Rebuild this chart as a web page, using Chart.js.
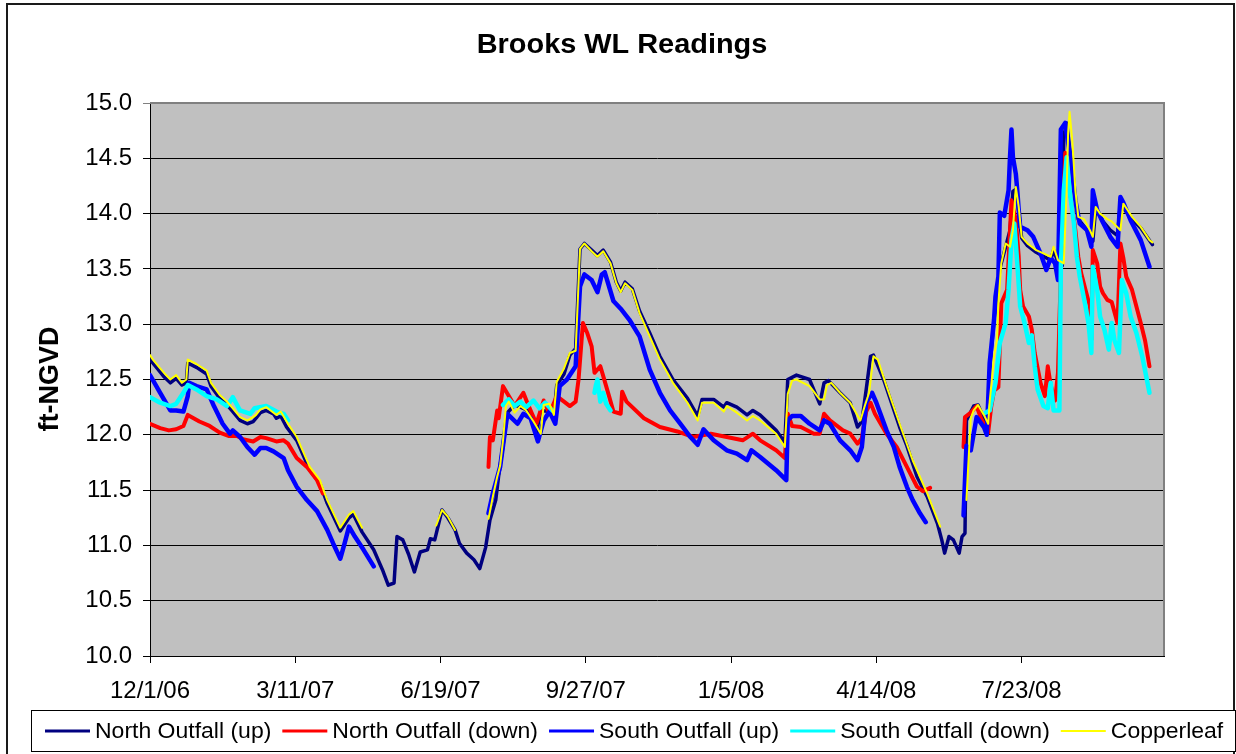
<!DOCTYPE html>
<html>
<head>
<meta charset="utf-8">
<title>Brooks WL Readings</title>
<script src="https://cdn.jsdelivr.net/npm/chart.js@4.4.1/dist/chart.umd.min.js"></script>
<style>
  html, body { margin: 0; padding: 0; background: #fff; }
  #wrap { width: 1236px; height: 754px; position: relative; }
</style>
</head>
<body>
<div id="wrap"><canvas id="wlChart"></canvas></div>
<script>
// x values are days since 12/1/06, y values are ft-NGVD; null = gap in the record
const tickDays = [0, 100, 200, 300, 400, 500, 600];
const tickLabels = ["12/1/06", "3/11/07", "6/19/07", "9/27/07", "1/5/08", "4/14/08", "7/23/08"];

const northUp = [
  [0,12.68],[5,12.60],[10,12.52],[14,12.47],[18,12.51],[22,12.45],[25,12.47],[26,12.65],[32,12.61],[39,12.55],
  [42,12.44],[48,12.33],[53,12.27],[57,12.21],[62,12.13],[67,12.10],[71,12.12],[73,12.15],[76,12.20],[80,12.22],
  [85,12.19],[87,12.15],[90,12.17],[94,12.07],[101,11.95],[110,11.68],[117,11.56],[122,11.38],[131,11.13],[137,11.25],
  [140,11.28],[146,11.12],[154,10.96],[160,10.78],[164,10.64],[168,10.66],[170,11.08],[174,11.05],[178,10.92],[182,10.76],
  [186,10.94],[191,10.96],[193,11.06],[196,11.05],[201,11.32],[205,11.25],[210,11.14],[213,11.02],[218,10.93],[223,10.87],
  [227,10.79],[231,10.98],[234,11.23],[238,11.41],[240,11.63],[243,11.90],[246,12.20],[251,12.27],[257,12.24],[262,12.20],
  [266,12.02],[269,12.22],[275,12.21],[278,12.17],[280,12.45],[285,12.55],[289,12.72],[293,12.78],[296,13.68],[299,13.73],
  [304,13.67],[308,13.62],[312,13.67],[317,13.56],[321,13.38],[324,13.30],[327,13.38],[332,13.32],[337,13.12],[344,12.92],
  [351,12.71],[360,12.50],[370,12.33],[377,12.17],[380,12.32],[388,12.32],[395,12.25],[397,12.29],[404,12.25],[411,12.18],
  [415,12.22],[420,12.18],[431,12.04],[437,11.93],[439,12.50],[445,12.54],[454,12.50],[461,12.28],[464,12.47],[467,12.49],
  [475,12.38],[482,12.29],[487,12.07],[490,12.12],[493,12.41],[496,12.71],[498,12.72],[505,12.50],[516,12.07],[521,11.90],
  [528,11.62],[535,11.44],[542,11.20],[545,11.05],[547,10.93],[550,11.08],[553,11.05],[557,10.93],[559,11.08],[561,11.11],
  [562,12.13],[567,12.26],[570,12.27],[574,12.15],[577,12.04],[578,12.59],[581,13.04],[585,13.50],[589,13.70],[592,13.85],
  [594,14.20],[596,14.22],[598,14.02],[600,13.78],[604,13.71],[610,13.65],[617,13.60],[620,13.58],[622,13.67],[625,13.56],
  [628,13.53],[629,14.70],[631,14.82],[633,14.60],[636,14.20],[639,13.95],[645,13.85],[649,13.75],[651,14.05],[656,13.93],
  [661,13.85],[666,13.80],[668,14.10],[670,14.05],[676,13.95],[682,13.87],[690,13.72]
];

const northDown = [
  [0,12.10],[7,12.06],[13,12.04],[18,12.05],[23,12.08],[26,12.18],[30,12.15],[34,12.12],[41,12.08],[48,12.02],
  [54,11.99],[60,11.99],[64,11.96],[71,11.94],[76,11.98],[80,11.97],[87,11.94],[92,11.95],[95,11.92],[101,11.79],
  [108,11.71],[115,11.59],[119,11.47], null,
  [233,11.71],[234,11.98],[236,11.95],[239,12.22],[240,12.15],[243,12.44],[247,12.35],[251,12.26],[257,12.38],[260,12.28],
  [266,12.10],[271,12.31],[275,12.19],[280,12.35],[285,12.30],[289,12.26],[293,12.30],[295,12.50],[298,13.01],[301,12.92],
  [304,12.80],[306,12.56],[310,12.62],[312,12.53],[316,12.35],[319,12.21],[324,12.19],[325,12.39],[328,12.30],[340,12.15],
  [351,12.07],[363,12.03],[374,11.98],[386,12.01],[397,11.98],[408,11.95],[415,12.01],[420,11.95],[431,11.86],[437,11.79],
  [439,12.19],[442,12.08],[448,12.07],[457,12.01],[461,12.01],[464,12.19],[468,12.13],[477,12.04],[482,12.01],[487,11.92],
  [490,11.97],[493,12.21],[496,12.29],[499,12.19],[507,12.01],[514,11.89],[521,11.71],[528,11.53],[532,11.49],[537,11.52], null,
  [560,11.89],[561,12.16],[565,12.20],[569,12.26],[572,12.15],[577,12.02],[579,12.25],[581,12.40],[584,12.43],[586,13.19],
  [590,13.31],[592,13.85],[593,14.12],[596,13.94],[598,13.61],[599,13.31],[601,13.16],[605,13.07],[607,12.95],[609,12.74],
  [613,12.47],[616,12.35],[618,12.62],[620,12.45],[623,12.31],[625,12.56],[628,13.94],[630,14.55],[632,14.30],[635,14.05],
  [637,13.85],[639,13.61],[641,13.46],[644,13.31],[647,13.16],[648,12.86],[649,13.67],[652,13.55],[654,13.34],[656,13.28],
  [659,13.22],[662,13.20],[666,13.01],[668,13.73],[670,13.60],[672,13.43],[676,13.31],[679,13.16],[682,13.01],[685,12.85],
  [688,12.62]
];

const southUp = [
  [0,12.54],[7,12.38],[14,12.22],[18,12.22],[23,12.21],[26,12.35],[27,12.47],[32,12.44],[39,12.41],[44,12.26],
  [50,12.10],[55,12.01],[57,12.04],[62,11.98],[67,11.89],[72,11.82],[76,11.88],[80,11.88],[85,11.85],[92,11.79],
  [95,11.68],[101,11.53],[108,11.41],[115,11.31],[122,11.14],[126,11.02],[131,10.88],[134,11.02],[137,11.17],[141,11.08],
  [147,10.96],[154,10.81], null,
  [233,11.29],[236,11.47],[241,11.71],[246,12.19],[253,12.10],[257,12.19],[262,12.15],[267,11.94],[271,12.13],[275,12.21],
  [279,12.10],[282,12.44],[287,12.50],[293,12.62],[296,13.34],[299,13.45],[304,13.40],[308,13.29],[311,13.45],[313,13.47],
  [319,13.21],[324,13.14],[330,13.04],[337,12.89],[344,12.59],[351,12.38],[358,12.22],[365,12.10],[372,11.98],[377,11.91],
  [381,12.05],[388,11.95],[397,11.86],[404,11.83],[411,11.77],[414,11.86],[420,11.80],[431,11.68],[438,11.59],[439,12.13],
  [442,12.17],[448,12.17],[454,12.10],[461,12.04],[464,12.13],[468,12.10],[475,11.95],[482,11.86],[487,11.77],[490,11.89],
  [493,12.29],[497,12.38],[500,12.29],[507,12.04],[512,11.89],[516,11.71],[521,11.53],[525,11.41],[530,11.29],[534,11.21], null,
  [560,11.27],[562,11.90],[565,11.86],[569,12.16],[574,12.07],[576,12.00],[578,12.65],[581,13.04],[582,13.25],[584,13.43],
  [585,14.01],[588,13.98],[591,14.21],[592,14.51],[593,14.76],[594,14.51],[596,14.36],[597,14.21],[598,14.03],[599,13.88],
  [604,13.85],[608,13.79],[613,13.64],[617,13.49],[620,13.60],[623,13.55],[625,13.40],[627,14.76],[630,14.82],[633,14.55],
  [635,14.36],[637,14.12],[640,13.91],[645,13.85],[648,13.70],[649,14.21],[652,14.03],[656,13.92],[661,13.79],[666,13.70],
  [668,14.15],[670,14.10],[675,13.94],[682,13.76],[688,13.52]
];

const southDown = [
  [0,12.34],[7,12.29],[14,12.26],[18,12.28],[23,12.38],[26,12.45],[32,12.41],[39,12.35],[46,12.32],[53,12.26],
  [57,12.34],[62,12.22],[69,12.19],[72,12.24],[80,12.26],[87,12.21],[92,12.19],[95,12.13], null,
  [243,12.27],[247,12.32],[251,12.26],[255,12.30],[259,12.25],[264,12.31],[268,12.24],[272,12.29],[277,12.22], null,
  [306,12.38],[307,12.45],[308,12.50],[310,12.30],[312,12.38],[314,12.28],[317,12.22], null,
  [575,12.20],[578,12.22],[582,12.47],[585,12.83],[589,13.01],[591,13.31],[593,13.76],[595,13.91],[597,13.55],[599,13.16],
  [602,13.01],[605,12.83],[607,12.90],[609,12.62],[611,12.41],[615,12.26],[618,12.24],[620,12.47],[622,12.22],[626,12.22],
  [627,13.52],[629,14.21],[631,14.51],[633,14.21],[636,13.91],[638,13.61],[640,13.43],[644,13.16],[646,13.01],[648,12.74],
  [649,13.52],[652,13.31],[654,13.07],[657,12.95],[660,12.77],[662,13.01],[664,12.85],[667,12.74],[669,13.40],[672,13.28],
  [675,13.07],[679,12.92],[683,12.71],[688,12.38]
];

const copperleaf = [
  [0,12.72],[2,12.68],[7,12.60],[11,12.54],[14,12.50],[18,12.54],[22,12.47],[25,12.50],[26,12.68],[32,12.64],
  [39,12.58],[42,12.47],[48,12.36],[53,12.30],[57,12.24],[62,12.16],[67,12.13],[71,12.16],[73,12.18],[76,12.23],
  [80,12.25],[83,12.22],[87,12.18],[90,12.21],[95,12.10],[101,11.98],[110,11.71],[117,11.59],[122,11.41],[131,11.16],
  [137,11.28],[140,11.31],[146,11.16], null,
  [197,11.18],[201,11.32],[205,11.26],[210,11.14], null,
  [233,11.24],[236,11.44],[239,11.62],[241,11.72],[243,11.95],[245,12.26],[247,12.30],[251,12.20],[255,12.26],[259,12.22],
  [264,12.12],[269,12.01],[271,12.27],[275,12.28],[278,12.18],[280,12.48],[285,12.60],[289,12.74],[293,12.76],[296,13.68],
  [299,13.73],[304,13.66],[308,13.61],[312,13.66],[317,13.55],[321,13.37],[324,13.29],[327,13.37],[332,13.31],[337,13.10],
  [344,12.89],[351,12.68],[360,12.47],[370,12.29],[377,12.13],[380,12.29],[388,12.29],[395,12.21],[397,12.26],[404,12.20],
  [411,12.13],[415,12.17],[420,12.13],[431,12.01],[437,11.89],[439,12.37],[442,12.49],[445,12.50],[454,12.44],[461,12.32],
  [464,12.32],[466,12.45],[469,12.47],[475,12.38],[482,12.29],[489,12.13],[492,12.26],[495,12.38],[498,12.71],[501,12.68],
  [507,12.44],[516,12.10],[525,11.77],[535,11.47],[544,11.17], null,
  [562,11.41],[565,12.15],[567,12.22],[570,12.27],[574,12.18],[577,12.10],[578,12.30],[581,12.71],[583,12.86],[584,13.19],
  [586,13.55],[589,13.73],[592,13.70],[594,13.85],[596,14.24],[598,14.06],[600,13.79],[604,13.73],[610,13.67],[615,13.64],
  [620,13.61],[622,13.70],[625,13.58],[629,13.55],[631,14.21],[632,14.73],[633,14.92],[635,14.64],[637,14.21],[639,13.97],
  [643,13.95],[647,13.85],[649,13.79],[651,14.06],[654,14.00],[659,13.95],[662,13.93],[668,13.85],[670,14.09],[672,14.05],
  [676,13.97],[682,13.88],[688,13.76],[690,13.74]
];

const FONT = '"Liberation Sans", Arial, Helvetica, sans-serif';

// null entries break the line
const toPoints = (pairs) =>
  pairs.map((p, i) => (p ? { x: p[0], y: p[1] } : { x: pairs[i - 1][0], y: null }));

const datasets = [
  { label: "North Outfall (up)", data: toPoints(northUp), borderColor: "#000080", borderWidth: 3.5, order: 5 },
  { label: "North Outfall (down)", data: toPoints(northDown), borderColor: "#ff0000", borderWidth: 4, order: 4 },
  { label: "South Outfall (up)", data: toPoints(southUp), borderColor: "#0000ff", borderWidth: 4.5, order: 3 },
  { label: "South Outfall (down)", data: toPoints(southDown), borderColor: "#00ffff", borderWidth: 4.5, order: 2 },
  { label: "Copperleaf", data: toPoints(copperleaf), borderColor: "#ffff00", borderWidth: 2, order: 1 },
];
const legendWidths = [3, 3, 3, 3, 2];

const excelLook = {
  id: "excelLook",
  beforeDraw(chart) {
    const { ctx, chartArea: a, width, height } = chart;
    ctx.save();
    ctx.fillStyle = "#ffffff";
    ctx.fillRect(0, 0, width, height);
    ctx.fillStyle = "#c0c0c0";
    ctx.fillRect(a.left, a.top, a.right - a.left, a.bottom - a.top);
    ctx.restore();
  },
  afterDraw(chart) {
    const { ctx, chartArea: a } = chart;
    ctx.save();

    // gray plot frame on top and right
    ctx.strokeStyle = "#808080";
    ctx.lineWidth = 2;
    ctx.beginPath();
    ctx.moveTo(a.left, a.top);
    ctx.lineTo(a.right, a.top);
    ctx.lineTo(a.right, a.bottom);
    ctx.stroke();

    // outer chart border
    ctx.strokeStyle = "#1a1a1a";
    ctx.lineWidth = 2;
    ctx.strokeRect(7, 4, 1227, 800);

    // title
    ctx.fillStyle = "#000";
    ctx.font = "bold 27px " + FONT;
    ctx.textAlign = "center";
    ctx.textBaseline = "middle";
    ctx.save();
    ctx.translate(622, 46);
    ctx.scale(1.07, 1);
    ctx.fillText("Brooks WL Readings", 0, 0);
    ctx.restore();

    // y axis title
    ctx.save();
    ctx.translate(51, 379);
    ctx.rotate(-Math.PI / 2);
    ctx.font = "bold 27px " + FONT;
    ctx.fillText("ft-NGVD", 0, 0);
    ctx.restore();

    // legend box
    ctx.fillStyle = "#ffffff";
    ctx.fillRect(31, 710, 1205, 42);
    ctx.strokeStyle = "#000";
    ctx.lineWidth = 1;
    ctx.strokeRect(31.5, 710.5, 1204, 41);

    ctx.font = "22px " + FONT;
    ctx.textAlign = "left";
    ctx.textBaseline = "middle";
    const stretch = 1.045;
    let x = 45;
    const y = 731;
    chart.data.datasets.forEach((ds, i) => {
      ctx.strokeStyle = ds.borderColor;
      ctx.lineWidth = legendWidths[i];
      ctx.beginPath();
      ctx.moveTo(x, y);
      ctx.lineTo(x + 45, y);
      ctx.stroke();
      x += 50;
      ctx.save();
      ctx.translate(x, y + 1);
      ctx.scale(stretch, 1);
      ctx.fillStyle = "#000";
      ctx.fillText(ds.label, 0, 0);
      ctx.restore();
      x += ctx.measureText(ds.label).width * stretch + 11;
    });

    ctx.restore();
  },
};

new Chart(document.getElementById("wlChart"), {
  type: "line",
  data: { datasets },
  options: {
    responsive: true,
    maintainAspectRatio: false,
    animation: false,
    layout: { padding: { top: 103, right: 72, bottom: 0, left: 0 } },
    plugins: {
      legend: { display: false },
      title: { display: false },
      tooltip: { enabled: false },
    },
    elements: {
      point: { radius: 0 },
      line: { tension: 0, fill: false, borderJoinStyle: "round", borderCapStyle: "round" },
    },
    scales: {
      x: {
        type: "linear",
        min: 0,
        max: 698,
        afterBuildTicks: (scale) => {
          scale.ticks = tickDays.map((v) => ({ value: v }));
        },
        afterFit: (scale) => {
          scale.height = 98;
        },
        ticks: {
          callback: (v) => tickLabels[tickDays.indexOf(v)],
          font: { family: FONT, size: 24 },
          color: "#000",
          padding: 14,
          maxRotation: 0,
          autoSkip: false,
        },
        grid: { drawOnChartArea: false, color: "#000", tickLength: 7 },
        border: { color: "#000", width: 1 },
      },
      y: {
        min: 10,
        max: 15,
        afterFit: (scale) => {
          scale.width = 150;
        },
        ticks: {
          stepSize: 0.5,
          callback: (v) => v.toFixed(1),
          font: { family: FONT, size: 24 },
          color: "#000",
          padding: 11,
        },
        grid: {
          color: (c) => (c.tick && c.tick.value === 15 ? "#808080" : "#000"),
          tickLength: 7,
        },
        border: { color: "#000", width: 1 },
      },
    },
  },
  plugins: [excelLook],
});
</script>
</body>
</html>
